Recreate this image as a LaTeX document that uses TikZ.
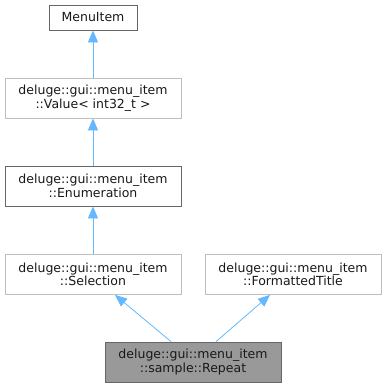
\documentclass[tikz,border=0pt]{standalone}
\usepackage{fontspec}
\setmainfont{DejaVu Sans}
\usetikzlibrary{arrows.meta}
\definecolor{edgeblue}{HTML}{63B8FF}
\definecolor{darkborder}{HTML}{666666}
\definecolor{lightborder}{HTML}{BFBFBF}
\definecolor{grayfill}{HTML}{999999}
\begin{document}
\begin{tikzpicture}[x=1pt,y=-1pt,
  box/.style={draw=lightborder,fill=white,line width=0.8pt,minimum width=176pt,minimum height=40pt,inner sep=0pt,align=center,font=\fontsize{12.5}{13.5}\selectfont,text=black!90},
  darkbox/.style={box,draw=darkborder},
  inh/.style={draw=edgeblue,line width=0.8pt,-{Triangle[length=12pt,width=10pt,fill=edgeblue]}}]
\useasboundingbox (0,0) rectangle (387,388);
\node[darkbox,minimum width=88pt,minimum height=25pt] (menu) at (93,17.5) {MenuItem};
\node[box] (value) at (93,98) {deluge::gui::menu\_item\\::Value< int32\_t >};
\node[darkbox] (enum) at (93,186) {deluge::gui::menu\_item\\::Enumeration};
\node[box] (sel) at (93,274.5) {deluge::gui::menu\_item\\::Selection};
\node[box] (ft) at (293,274.5) {deluge::gui::menu\_item\\::FormattedTitle};
\node[darkbox,fill=grayfill] (rep) at (193,362) {deluge::gui::menu\_item\\::sample::Repeat};
\draw[inh] (value.north) -- (menu.south);
\draw[inh] (enum.north) -- (value.south);
\draw[inh] (sel.north) -- (enum.south);
\draw[inh] ([xshift=-22pt]rep.north) -- ([xshift=22pt]sel.south);
\draw[inh] ([xshift=23pt]rep.north) -- ([xshift=-23pt]ft.south);
\end{tikzpicture}
\end{document}
